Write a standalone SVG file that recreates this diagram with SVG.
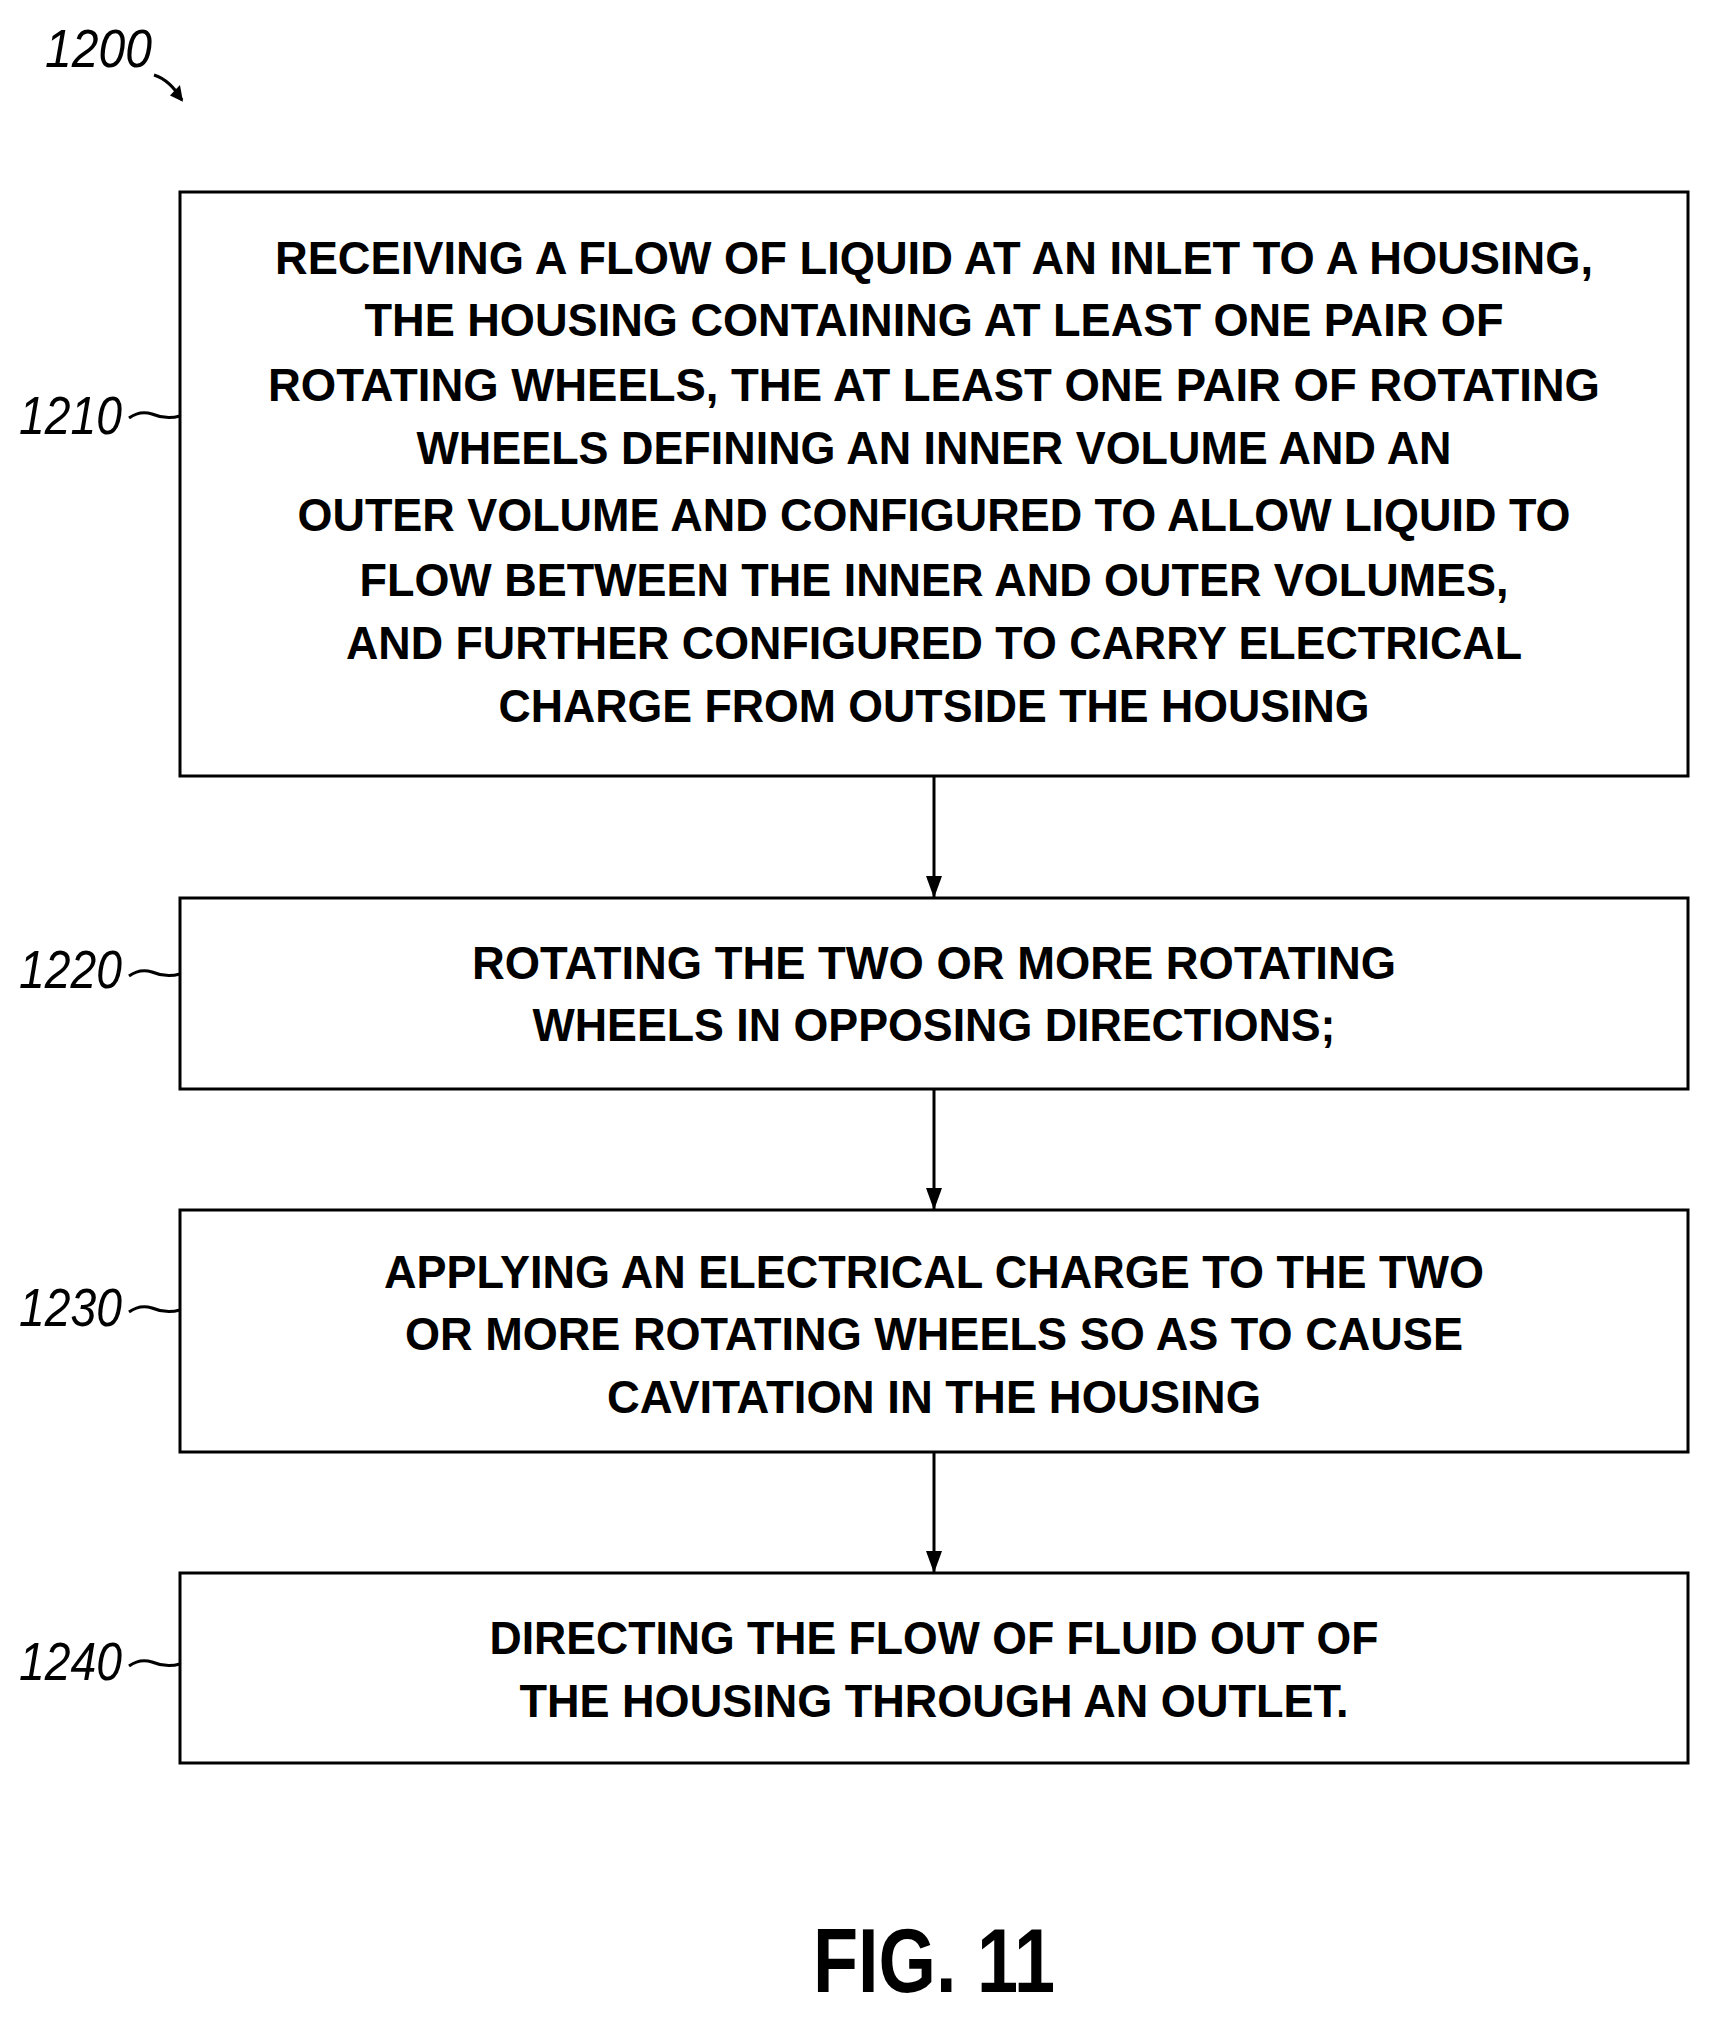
<svg xmlns="http://www.w3.org/2000/svg" width="1716" height="2023" viewBox="0 0 1716 2023">
<style>
.box{fill:#fff;stroke:#000;stroke-width:3}
.t{font-family:"Liberation Sans",Arial,sans-serif;font-weight:bold;font-size:47px;text-anchor:middle}
.lbl{font-family:"Liberation Sans",Arial,sans-serif;font-style:italic;font-size:54px}
.c{fill:none;stroke:#000;stroke-width:3}
</style>
<defs><marker id="ah" markerWidth="22" markerHeight="16" refX="21" refY="8" orient="auto" markerUnits="userSpaceOnUse" viewBox="0 0 22 16"><path d="M0,0 L22,8 L0,16 z"/></marker>
<marker id="ah2" markerWidth="16" markerHeight="16" refX="14" refY="8" orient="auto" markerUnits="userSpaceOnUse"><path d="M0,2 L16,8 L4,16 z"/></marker></defs>
<rect width="1716" height="2023" fill="#fff"/>
<text class="lbl" x="45" y="67" textLength="107" lengthAdjust="spacingAndGlyphs">1200</text>
<path class="c" d="M154,75 Q170,80 182,100" marker-end="url(#ah2)"/>
<g id="n1210">
<rect class="box" x="180" y="192" width="1508" height="584"/>
<text class="t" x="934" y="274" textLength="1318" lengthAdjust="spacingAndGlyphs">RECEIVING A FLOW OF LIQUID AT AN INLET TO A HOUSING,</text>
<text class="t" x="934" y="336" textLength="1139" lengthAdjust="spacingAndGlyphs">THE HOUSING CONTAINING AT LEAST ONE PAIR OF</text>
<text class="t" x="934" y="401" textLength="1332" lengthAdjust="spacingAndGlyphs">ROTATING WHEELS, THE AT LEAST ONE PAIR OF ROTATING</text>
<text class="t" x="934" y="464" textLength="1035" lengthAdjust="spacingAndGlyphs">WHEELS DEFINING AN INNER VOLUME AND AN</text>
<text class="t" x="934" y="531" textLength="1273" lengthAdjust="spacingAndGlyphs">OUTER VOLUME AND CONFIGURED TO ALLOW LIQUID TO</text>
<text class="t" x="934" y="596" textLength="1149" lengthAdjust="spacingAndGlyphs">FLOW BETWEEN THE INNER AND OUTER VOLUMES,</text>
<text class="t" x="934" y="659" textLength="1176" lengthAdjust="spacingAndGlyphs">AND FURTHER CONFIGURED TO CARRY ELECTRICAL</text>
<text class="t" x="934" y="722" textLength="871" lengthAdjust="spacingAndGlyphs">CHARGE FROM OUTSIDE THE HOUSING</text>
<text class="lbl" x="19" y="434" textLength="103" lengthAdjust="spacingAndGlyphs">1210</text>
<path class="c" d="M129,418 Q140,410 152,414 Q166,420 180,416"/>
</g>
<g id="n1220">
<rect class="box" x="180" y="898" width="1508" height="191"/>
<text class="t" x="934" y="979" textLength="924" lengthAdjust="spacingAndGlyphs">ROTATING THE TWO OR MORE ROTATING</text>
<text class="t" x="934" y="1041" textLength="803" lengthAdjust="spacingAndGlyphs">WHEELS IN OPPOSING DIRECTIONS;</text>
<text class="lbl" x="19" y="988" textLength="103" lengthAdjust="spacingAndGlyphs">1220</text>
<path class="c" d="M129,976 Q140,968 152,972 Q166,978 180,974"/>
</g>
<g id="n1230">
<rect class="box" x="180" y="1210" width="1508" height="242"/>
<text class="t" x="934" y="1288" textLength="1100" lengthAdjust="spacingAndGlyphs">APPLYING AN ELECTRICAL CHARGE TO THE TWO</text>
<text class="t" x="934" y="1350" textLength="1058" lengthAdjust="spacingAndGlyphs">OR MORE ROTATING WHEELS SO AS TO CAUSE</text>
<text class="t" x="934" y="1413" textLength="654" lengthAdjust="spacingAndGlyphs">CAVITATION IN THE HOUSING</text>
<text class="lbl" x="19" y="1326" textLength="103" lengthAdjust="spacingAndGlyphs">1230</text>
<path class="c" d="M129,1312 Q140,1304 152,1308 Q166,1314 180,1310"/>
</g>
<g id="n1240">
<rect class="box" x="180" y="1573" width="1508" height="190"/>
<text class="t" x="934" y="1654" textLength="889" lengthAdjust="spacingAndGlyphs">DIRECTING THE FLOW OF FLUID OUT OF</text>
<text class="t" x="934" y="1717" textLength="829" lengthAdjust="spacingAndGlyphs">THE HOUSING THROUGH AN OUTLET.</text>
<text class="lbl" x="19" y="1680" textLength="103" lengthAdjust="spacingAndGlyphs">1240</text>
<path class="c" d="M129,1666 Q140,1658 152,1662 Q166,1668 180,1664"/>
</g>
<g id="connectors">
<line class="c" x1="934" y1="776" x2="934" y2="897" marker-end="url(#ah)"/>
<line class="c" x1="934" y1="1089" x2="934" y2="1209" marker-end="url(#ah)"/>
<line class="c" x1="934" y1="1452" x2="934" y2="1572" marker-end="url(#ah)"/>
</g>
<text x="934" y="1992" font-family="Liberation Sans,Arial,sans-serif" font-weight="bold" font-size="90" text-anchor="middle" textLength="242" lengthAdjust="spacingAndGlyphs">FIG. 11</text>
</svg>
